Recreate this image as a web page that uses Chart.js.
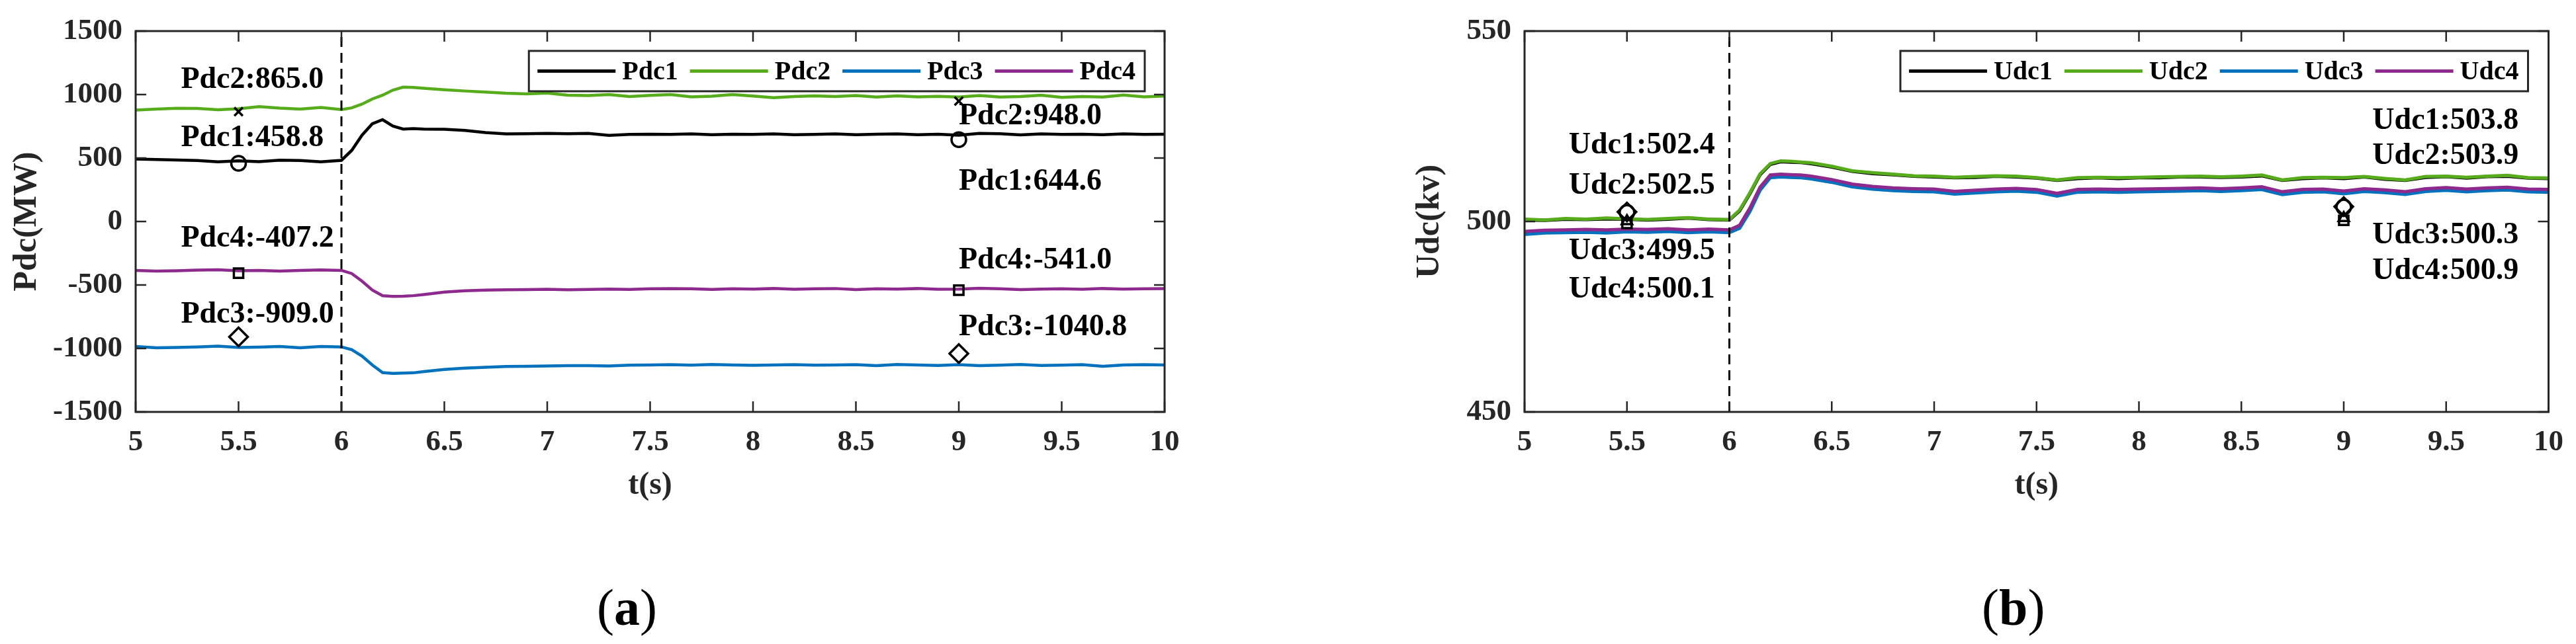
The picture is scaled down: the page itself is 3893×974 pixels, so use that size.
<!DOCTYPE html>
<html>
<head>
<meta charset="utf-8">
<script src="https://cdn.jsdelivr.net/npm/chart.js@4"></script>
<style>
  html, body { margin: 0; padding: 0; background: #fff; }
  #wrap { position: relative; width: 3893px; height: 974px; }
  .panel { position: absolute; top: 0; height: 974px; }
  #panel-a { left: 0; width: 1946px; }
  #panel-b { left: 1946px; width: 1947px; }
</style>
</head>
<body>
<div id="wrap">
  <div class="panel" id="panel-a"><canvas id="chart-pdc"></canvas></div>
  <div class="panel" id="panel-b"><canvas id="chart-udc"></canvas></div>
</div>
<script>
// time axis (s)
const time = [5.0, 5.1, 5.2, 5.3, 5.4, 5.5, 5.6, 5.7, 5.8, 5.9, 6.0, 6.05, 6.1, 6.15, 6.2, 6.25, 6.3, 6.35, 6.4,
  6.5, 6.6, 6.7, 6.8, 6.9, 7.0, 7.1, 7.2, 7.3, 7.4, 7.5, 7.6, 7.7, 7.8, 7.9, 8.0, 8.1, 8.2, 8.3, 8.4, 8.5,
  8.6, 8.7, 8.8, 8.9, 9.0, 9.1, 9.2, 9.3, 9.4, 9.5, 9.6, 9.7, 9.8, 9.9, 10.0];

// (a) DC power, MW
const pdc1 = [492, 488, 485, 480, 470, 478, 472, 483, 480, 470, 482, 560, 680, 770, 802, 752, 728, 732, 728,
  726, 718, 700, 690, 692, 694, 692, 694, 678, 686, 688, 686, 690, 684, 688, 686, 690, 684, 686, 690, 684,
  688, 690, 684, 688, 680, 694, 692, 682, 690, 686, 688, 684, 690, 686, 688];
const pdc2 = [878, 885, 892, 890, 880, 888, 905, 893, 885, 898, 882, 895, 925, 965, 995, 1035, 1058, 1056, 1050,
  1038, 1028, 1020, 1010, 1005, 1012, 995, 992, 1000, 985, 993, 1000, 982, 987, 1000, 988, 975, 985, 990, 985, 992,
  980, 990, 982, 986, 980, 992, 980, 985, 995, 978, 985, 980, 996, 982, 988];
const pdc3 = [-985, -995, -992, -988, -982, -992, -990, -985, -995, -985, -988, -1010, -1060, -1130, -1190, -1196, -1194, -1192, -1182,
  -1165, -1155, -1148, -1142, -1140, -1138, -1136, -1135, -1138, -1132, -1130, -1128, -1132, -1126, -1130, -1133, -1130, -1128, -1132, -1130, -1128,
  -1135, -1126, -1130, -1134, -1128, -1136, -1132, -1126, -1134, -1132, -1128, -1140, -1130, -1128, -1130];
const pdc4 = [-385, -390, -388, -383, -380, -388, -386, -390, -385, -382, -385, -410, -470, -540, -585, -590, -588, -584, -575,
  -556, -545, -540, -538, -536, -534, -538, -535, -532, -535, -530, -528, -530, -535, -530, -532, -528, -534, -530, -528, -536,
  -530, -532, -528, -534, -532, -526, -530, -536, -532, -530, -534, -528, -532, -530, -528];

// (b) DC voltage, kV
const udc1 = [500.4, 500.3, 500.6, 500.5, 500.7, 500.6, 500.4, 500.6, 500.9, 500.5, 500.4, 502.8, 507.3, 512.3, 515.0, 515.7, 515.6, 515.5, 515.2,
  514.3, 513.2, 512.6, 512.3, 511.9, 511.7, 511.5, 511.6, 511.9, 511.7, 511.4, 510.8, 511.3, 511.5, 511.3, 511.5, 511.5, 511.7, 511.7, 511.6, 511.7,
  512.0, 510.8, 511.3, 511.5, 511.3, 511.7, 511.1, 510.8, 511.6, 511.8, 511.4, 511.8, 511.9, 511.4, 511.3];
const udc2 = [500.6, 500.4, 500.8, 500.6, 500.9, 500.7, 500.5, 500.8, 501.0, 500.6, 500.5, 503.0, 507.5, 512.5, 515.2, 515.9, 515.8, 515.6, 515.4,
  514.5, 513.3, 512.8, 512.4, 512.0, 511.9, 511.6, 511.8, 512.0, 511.9, 511.5, 510.9, 511.5, 511.6, 511.5, 511.6, 511.7, 511.8, 511.9, 511.7, 511.9,
  512.2, 510.9, 511.5, 511.6, 511.5, 511.8, 511.3, 510.9, 511.8, 511.9, 511.6, 511.9, 512.1, 511.5, 511.4];
const udc3 = [496.6, 497.0, 497.1, 497.2, 497.0, 497.3, 497.2, 497.4, 497.1, 497.3, 497.1, 498.2, 502.6, 508.2, 511.5, 511.7, 511.6, 511.5, 511.2,
  510.3, 509.1, 508.5, 508.1, 507.9, 507.8, 507.2, 507.5, 507.8, 508.0, 507.7, 506.7, 507.7, 507.8, 507.7, 507.8, 507.9, 508.0, 508.1, 507.9, 508.1,
  508.4, 507.1, 507.7, 507.8, 507.3, 507.9, 507.6, 507.1, 507.9, 508.2, 507.8, 508.1, 508.3, 507.8, 507.7];
const udc4 = [497.4, 497.7, 497.8, 497.9, 497.8, 498.0, 497.9, 498.1, 497.8, 498.0, 497.8, 499.0, 503.5, 509.0, 512.2, 512.4, 512.3, 512.2, 511.9,
  511.0, 509.8, 509.2, 508.8, 508.6, 508.5, 507.9, 508.2, 508.5, 508.7, 508.4, 507.4, 508.4, 508.5, 508.4, 508.5, 508.6, 508.7, 508.8, 508.6, 508.8,
  509.1, 507.8, 508.4, 508.5, 508.0, 508.6, 508.3, 507.8, 508.6, 508.9, 508.5, 508.8, 509.0, 508.5, 508.4];

// data tips
const markTimes = [5.5, 9.0];
const pdc1Marks = [458.8, 644.6];
const pdc2Marks = [865.0, 948.0];
const pdc3Marks = [-909.0, -1040.8];
const pdc4Marks = [-407.2, -541.0];
const udc1Marks = [502.4, 503.8];
const udc2Marks = [502.5, 503.9];
const udc3Marks = [499.5, 500.3];
const udc4Marks = [500.1, 500.9];

const faultTime = 6;

const SERIF = "'Liberation Serif', 'Times New Roman', serif";
const AXIS_COLOR = "#262626";

function makePoints(xs, ys) {
  return xs.map((x, i) => ({ x: x, y: ys[i] }));
}

function drawCaption(ctx, letter, cx, cy) {
  const normal = `78px ${SERIF}`;
  const bold = `bold 78px ${SERIF}`;
  ctx.font = normal;
  const pw = ctx.measureText("(").width;
  ctx.font = bold;
  const lw = ctx.measureText(letter).width;
  let x = cx - (2 * pw + lw) / 2;
  ctx.textAlign = "left";
  ctx.textBaseline = "middle";
  ctx.font = normal;
  ctx.fillText("(", x, cy);
  x += pw;
  ctx.font = bold;
  ctx.fillText(letter, x, cy);
  x += lw;
  ctx.font = normal;
  ctx.fillText(")", x, cy);
}

function drawLegend(ctx, area, series, rightGap) {
  ctx.font = `bold 40px ${SERIF}`;
  const lineLen = 118, gap = 10, itemGap = 18, padL = 13, padR = 14, h = 61;
  const widths = series.map((s) => ctx.measureText(s.name).width);
  const total = padL + padR + widths.reduce((acc, w) => acc + lineLen + gap + w, 0) + itemGap * (series.length - 1);
  const right = area.right - rightGap;
  const top = area.top + 30;
  const left = right - total;
  ctx.fillStyle = "#fff";
  ctx.fillRect(left, top, total, h);
  ctx.strokeStyle = AXIS_COLOR;
  ctx.lineWidth = 3;
  ctx.strokeRect(left, top, total, h);
  const cy = top + h / 2;
  let x = left + padL;
  ctx.textAlign = "left";
  ctx.textBaseline = "middle";
  series.forEach((s, i) => {
    ctx.strokeStyle = s.color;
    ctx.lineWidth = 5;
    ctx.beginPath();
    ctx.moveTo(x, cy);
    ctx.lineTo(x + lineLen, cy);
    ctx.stroke();
    x += lineLen + gap;
    ctx.fillStyle = "#000";
    ctx.fillText(s.name, x, cy + 2);
    x += widths[i] + itemGap;
  });
}

// frame, inward ticks, legend, data-tip texts and titles in MATLAB style
function decorPlugin(cfg) {
  return {
    id: "decor",
    afterDraw(chart) {
      const ctx = chart.ctx;
      const a = chart.chartArea;
      const xs = chart.scales.x;
      const ys = chart.scales.y;
      ctx.save();

      ctx.fillStyle = "#000";
      ctx.font = `bold 46px ${SERIF}`;
      ctx.textBaseline = "middle";
      cfg.series.forEach((s) => {
        s.notes.forEach((n, k) => {
          ctx.textAlign = n.align;
          const text = `${s.name}:${s.marks[k].toFixed(1)}`;
          ctx.fillText(text, xs.getPixelForValue(n.t), ys.getPixelForValue(n.v));
        });
      });

      ctx.strokeStyle = AXIS_COLOR;
      ctx.lineWidth = 3;
      ctx.strokeRect(a.left, a.top, a.right - a.left, a.bottom - a.top);

      ctx.lineWidth = 2.5;
      ctx.beginPath();
      xs.ticks.forEach((t) => {
        const px = xs.getPixelForValue(t.value);
        ctx.moveTo(px, a.bottom);
        ctx.lineTo(px, a.bottom - 16);
        ctx.moveTo(px, a.top);
        ctx.lineTo(px, a.top + 16);
      });
      ys.ticks.forEach((t) => {
        const py = ys.getPixelForValue(t.value);
        ctx.moveTo(a.left, py);
        ctx.lineTo(a.left + 16, py);
        ctx.moveTo(a.right, py);
        ctx.lineTo(a.right - 16, py);
      });
      ctx.stroke();

      drawLegend(ctx, a, cfg.series, cfg.legendGap);

      const cx = (a.left + a.right) / 2;
      ctx.fillStyle = AXIS_COLOR;
      ctx.font = `bold 48px ${SERIF}`;
      ctx.textAlign = "center";
      ctx.textBaseline = "middle";
      ctx.fillText(cfg.xTitle, cx, 735);

      ctx.save();
      ctx.translate(cfg.yTitleX, (a.top + a.bottom) / 2);
      ctx.rotate(-Math.PI / 2);
      ctx.font = `bold 50px ${SERIF}`;
      ctx.fillText(cfg.yTitle, 0, 0);
      ctx.restore();

      ctx.fillStyle = "#000";
      drawCaption(ctx, cfg.caption, cx - 35, 925);
      ctx.restore();
    },
  };
}

function buildChart(canvasId, cfg) {
  const ctx = document.getElementById(canvasId).getContext("2d");
  const tickFont = { family: SERIF, size: 45, weight: "bold" };
  const datasets = [];

  cfg.series.forEach((s, i) => {
    datasets.push({
      label: s.name,
      data: makePoints(time, s.values),
      borderColor: s.color,
      borderWidth: cfg.lineWidth,
      pointRadius: 0,
      tension: 0,
      order: 10 - i,
    });
  });
  cfg.series.forEach((s) => {
    datasets.push({
      label: s.name + " tip",
      data: makePoints(markTimes, s.marks),
      showLine: false,
      pointStyle: s.marker,
      pointRadius: s.markerSize,
      pointBorderColor: "#000",
      pointBackgroundColor: "rgba(0,0,0,0)",
      pointBorderWidth: 3.5,
      order: 1,
    });
  });
  datasets.push({
    label: "fault",
    data: [{ x: faultTime, y: cfg.yMin }, { x: faultTime, y: cfg.yMax }],
    borderColor: "#000",
    borderWidth: 3,
    borderDash: [15, 9],
    pointRadius: 0,
    order: 0,
  });

  return new Chart(ctx, {
    type: "line",
    data: { datasets: datasets },
    options: {
      responsive: true,
      maintainAspectRatio: false,
      animation: false,
      devicePixelRatio: 1,
      layout: { padding: { top: 31, right: cfg.padRight, left: 0, bottom: 0 } },
      plugins: { legend: { display: false }, tooltip: { enabled: false } },
      scales: {
        x: {
          type: "linear",
          min: 5,
          max: 10,
          afterFit: (s) => { s.height = 351; },
          ticks: {
            stepSize: 0.5,
            padding: 19,
            autoSkip: false,
            maxRotation: 0,
            color: AXIS_COLOR,
            font: tickFont,
            callback: (v) => String(v),
          },
          grid: { display: false, drawTicks: false },
          border: { display: false },
        },
        y: {
          type: "linear",
          min: cfg.yMin,
          max: cfg.yMax,
          afterFit: (s) => { s.width = cfg.axisLeft; },
          ticks: {
            stepSize: cfg.yStep,
            padding: 20,
            color: AXIS_COLOR,
            font: tickFont,
            callback: (v) => String(v),
          },
          grid: { display: false, drawTicks: false },
          border: { display: false },
        },
      },
    },
    plugins: [decorPlugin(cfg)],
  });
}

buildChart("chart-pdc", {
  yMin: -1500, yMax: 1500, yStep: 500,
  axisLeft: 205, padRight: 186, legendGap: 30, lineWidth: 4.5,
  yTitle: "Pdc(MW)", yTitleX: 41, xTitle: "t(s)", caption: "a",
  series: [
    { name: "Pdc1", values: pdc1, marks: pdc1Marks, color: "#000000", marker: "circle", markerSize: 11,
      notes: [{ t: 5.22, v: 654, align: "left" }, { t: 9.0, v: 314, align: "left" }] },
    { name: "Pdc2", values: pdc2, marks: pdc2Marks, color: "#56AC1A", marker: "crossRot", markerSize: 9,
      notes: [{ t: 5.22, v: 1115, align: "left" }, { t: 9.0, v: 826, align: "left" }] },
    { name: "Pdc3", values: pdc3, marks: pdc3Marks, color: "#0072BD", marker: "rectRot", markerSize: 14,
      notes: [{ t: 5.22, v: -735, align: "left" }, { t: 9.0, v: -836, align: "left" }] },
    { name: "Pdc4", values: pdc4, marks: pdc4Marks, color: "#8E2A8E", marker: "rect", markerSize: 10,
      notes: [{ t: 5.22, v: -137, align: "left" }, { t: 9.0, v: -309, align: "left" }] },
  ],
});

buildChart("chart-udc", {
  yMin: 450, yMax: 550, yStep: 50,
  axisLeft: 358, padRight: 34, legendGap: 31, lineWidth: 5,
  yTitle: "Udc(kv)", yTitleX: 215, xTitle: "t(s)", caption: "b",
  series: [
    { name: "Udc1", values: udc1, marks: udc1Marks, color: "#000000", marker: "circle", markerSize: 11,
      notes: [{ t: 5.93, v: 519.9, align: "right" }, { t: 9.14, v: 526.4, align: "left" }] },
    { name: "Udc2", values: udc2, marks: udc2Marks, color: "#56AC1A", marker: "rectRot", markerSize: 14,
      notes: [{ t: 5.93, v: 509.3, align: "right" }, { t: 9.14, v: 517.1, align: "left" }] },
    { name: "Udc3", values: udc3, marks: udc3Marks, color: "#0072BD", marker: "rect", markerSize: 10,
      notes: [{ t: 5.93, v: 492.1, align: "right" }, { t: 9.14, v: 496.3, align: "left" }] },
    { name: "Udc4", values: udc4, marks: udc4Marks, color: "#8E2A8E", marker: "triangle", markerSize: 9,
      notes: [{ t: 5.93, v: 482.1, align: "right" }, { t: 9.14, v: 487.0, align: "left" }] },
  ],
});
</script>
</body>
</html>
